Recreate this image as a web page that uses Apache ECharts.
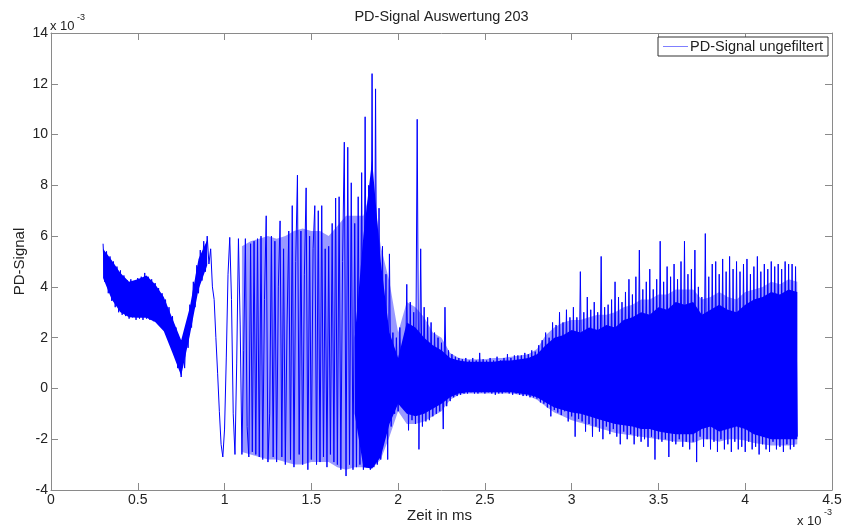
<!DOCTYPE html>
<html>
<head>
<meta charset="utf-8">
<script src="https://cdn.jsdelivr.net/npm/echarts@6/dist/echarts.min.js"></script>
<style>
  html, body { margin: 0; padding: 0; background: #fff; }
  #chart { width: 847px; height: 528px; }
</style>
</head>
<body>
<div id="chart"></div>
<script>
// Time axis of the recording (units of 1e-3 ms), reduced sample grid
const tStart = 0.30;
const tStep = 0.01;

// PD signal peaks/troughs (units of 1e-3), one value per sample step
const pdSignal = [
  5.7, 4.2, 5.4, 3.75, 5.2, 3.45, 5.0, 3.2, 4.8, 3.0,
  4.65, 2.9, 4.45, 2.85, 4.25, 2.75, 4.3, 2.8, 4.2, 2.7,
  4.35, 2.75, 4.4, 2.7, 4.55, 2.75, 4.4, 2.7, 4.3, 2.65,
  4.15, 2.6, 3.95, 2.5, 3.75, 2.35, 3.5, 2.1, 3.2, 1.8,
  2.85, 1.35, 2.4, 0.8, 1.95, 0.45, 2.0, 0.8, 2.45, 1.6,
  3.3, 2.4, 4.2, 3.2, 4.85, 3.75, 5.45, 4.25, 5.8, 4.6,
  6.0, 4.9, 5.5, 4.0, 3.5, 2.0, 0.6, -0.9, -2.2, -2.7,
  -1.6, 1.2, 4.5, 5.95, 3.5, -1.0, -2.6, 1.0, 5.9, 2.5,
  -2.6, 1.5, 5.9, -1.5, -2.7, 5.7, -2.5, 5.8, -2.6, 5.9,
  -2.7, 6.0, -2.8, 3.5, 6.8, -2.9, -1.0, 6.0, -2.7, 5.8,
  -2.9, 4.0, 6.6, -2.7, 5.5, -3.0, 2.5, 6.2, -2.8, 7.2,
  -3.1, 5.0, 8.4, -2.6, 6.2, -3.0, 4.5, 7.9, -3.2, 6.0,
  -2.8, 5.5, 7.2, -3.0, 7.0, -2.9, 7.2, -2.7, 5.5, -3.1,
  5.6, -2.6, 6.5, -2.9, 7.5, -3.0, 7.55, -3.2, 5.0, 9.7,
  -3.45, 9.5, -3.0, 8.1, -3.2, 6.5, -3.1, 7.55, -3.0, 8.5,
  -3.2, 10.7, -3.1, 8.0, -3.2, 12.4, -3.1, 11.8, -3.0, 7.1,
  -2.8, 5.6, -1.9, 4.5, -2.8, 5.3, -1.5, 2.2, -1.0, 2.0,
  -0.9, 2.4, -0.7, 1.5, -0.4, 4.1, -1.65, 3.4, -1.25, 3.0,
  -1.4, 10.6, -2.4, 5.5, -1.5, 3.2, -1.3, 2.8, -1.25, 2.6,
  -1.1, 2.2, -1.0, 2.0, -0.9, 1.8, -1.6, 3.2, -0.7, 1.5,
  -0.5, 1.35, -0.35, 1.25, -0.3, 1.2, -0.25, 1.15, -0.2, 1.2,
  -0.2, 1.1, -0.15, 1.2, -0.2, 1.1, -0.2, 1.4, -0.15, 1.15,
  -0.2, 1.1, -0.15, 1.2, -0.2, 1.1, -0.25, 1.25, -0.2, 1.1,
  -0.2, 1.2, -0.15, 1.35, -0.2, 1.2, -0.25, 1.3, -0.2, 1.3,
  -0.25, 1.3, -0.3, 1.4, -0.3, 1.35, -0.35, 1.5, -0.35, 1.45,
  -0.4, 1.7, -0.55, 1.9, -0.6, 2.2, -0.75, 2.0, -1.1, 2.6,
  -0.85, 2.5, -0.95, 3.0, -1.05, 2.6, -0.9, 3.1, -1.3, 2.8,
  -1.1, 3.2, -1.9, 2.8, -1.2, 4.6, -1.3, 3.0, -1.7, 3.6,
  -1.4, 3.1, -1.9, 3.4, -1.5, 3.0, -1.7, 5.2, -2.0, 3.2,
  -1.5, 3.3, -1.8, 3.5, -1.6, 4.2, -1.9, 3.6, -2.2, 3.4,
  -1.7, 3.8, -2.0, 4.3, -1.8, 3.7, -2.2, 4.4, -1.9, 5.45,
  -2.1, 3.9, -2.0, 4.2, -2.3, 4.7, -1.9, 3.9, -2.8, 4.3,
  -2.0, 5.8, -2.1, 4.2, -2.0, 4.8, -2.7, 4.4, -2.1, 4.9,
  -2.2, 4.3, -2.0, 5.0, -2.3, 5.8, -2.1, 4.5, -2.4, 4.7,
  -2.1, 5.45, -2.9, 4.0, -1.9, 3.6, -2.3, 6.1, -2.0, 4.4,
  -2.4, 4.9, -2.1, 5.0, -2.5, 4.5, -2.0, 5.1, -2.4, 4.6,
  -2.2, 5.2, -2.5, 4.7, -2.1, 5.0, -2.4, 4.6, -2.3, 4.9,
  -2.5, 5.1, -2.1, 4.5, -2.4, 4.8, -2.3, 5.2, -2.6, 4.6,
  -2.2, 4.9, -2.4, 4.7, -2.5, 5.0, -2.1, 4.8, -2.4, 4.9,
  -2.3, 4.7, -2.5, 5.0, -2.2, 4.9, -2.4, 4.9, -2.3, 4.8,
  -1.9
];

// Envelope of the densely oscillating part, coarse grid (null = no dense part)
const envStart = 0.30;
const envStep = 0.05;
const coreUpper = [
  5.5, 5.05, 4.55, 4.2, 4.3, 4.45, 4.1, 3.6, 2.75, 1.9,
  3.2, 5.1, 5.85, null, null, null, null, null, null, null,
  null, null, null, null, null, null, null, null, null, 2.0,
  6.0, 9.0, 5.0, 2.2, 1.2, 2.6, 2.4, 2.0, 1.7, 1.5,
  1.2, 1.1, 1.05, 1.05, 1.05, 1.05, 1.1, 1.1, 1.15, 1.2,
  1.35, 1.7, 2.0, 2.1, 2.3, 2.2, 2.4, 2.3, 2.5, 2.4,
  2.7, 2.8, 3.0, 2.9, 3.2, 3.1, 3.4, 3.3, 3.4, 2.9,
  3.1, 3.3, 3.1, 3.0, 3.3, 3.5, 3.6, 3.8, 3.7, 3.9,
  3.8
];
const coreLower = [
  4.35, 3.5, 3.0, 2.8, 2.78, 2.78, 2.62, 2.25, 1.4, 0.5,
  2.1, 3.9, 4.85, null, null, null, null, null, null, null,
  null, null, null, null, null, null, null, null, null, -1.0,
  -3.1, -3.15, -2.7, -1.4, -0.6, -1.0, -1.1, -1.0, -0.8, -0.6,
  -0.35, -0.2, -0.15, -0.15, -0.15, -0.15, -0.15, -0.15, -0.2, -0.25,
  -0.35, -0.55, -0.75, -0.85, -0.95, -1.0, -1.1, -1.2, -1.3, -1.4,
  -1.45, -1.5, -1.6, -1.6, -1.7, -1.75, -1.8, -1.8, -1.8, -1.6,
  -1.5, -1.7, -1.6, -1.5, -1.6, -1.8, -1.9, -2.0, -2.0, -2.0,
  -2.0
];
// Outer, sparser part of the oscillation (thin strokes, lighter overall)
const hazeUpper = [
  null, null, null, null, null, null, null, null, null, null,
  null, null, null, null, null, null, 5.6, 5.8, 5.9, 6.0,
  5.9, 6.0, 6.2, 6.3, 6.2, 6.2, 6.0, 6.4, 6.8, 6.8,
  6.8, 8.0, 5.6, 4.2, 2.2, 3.4, 3.2, 2.8, 2.2, 2.0,
  1.4, 1.2, 1.15, 1.15, 1.15, 1.2, 1.2, 1.25, 1.3, 1.35,
  1.55, 2.1, 2.4, 2.6, 2.7, 2.7, 2.8, 2.9, 2.9, 3.0,
  3.2, 3.3, 3.5, 3.5, 3.7, 3.7, 3.9, 3.9, 3.9, 3.5,
  3.6, 3.8, 3.6, 3.5, 3.8, 3.9, 4.0, 4.2, 4.1, 4.3,
  4.2
];
const hazeLower = [
  null, null, null, null, null, null, null, null, null, null,
  null, null, null, null, null, null, -2.5, -2.6, -2.7, -2.8,
  -2.8, -2.9, -3.0, -3.0, -2.9, -2.9, -2.9, -3.1, -3.2, -3.1,
  -3.1, -3.15, -2.8, -1.9, -0.9, -1.4, -1.4, -1.3, -1.1, -0.9,
  -0.45, -0.25, -0.2, -0.2, -0.2, -0.2, -0.2, -0.2, -0.25, -0.3,
  -0.45, -0.7, -0.95, -1.1, -1.25, -1.35, -1.45, -1.55, -1.65, -1.75,
  -1.8, -1.85, -1.9, -1.95, -2.0, -2.05, -2.1, -2.1, -2.15, -2.0,
  -2.0, -2.1, -2.0, -2.0, -2.05, -2.15, -2.2, -2.25, -2.25, -2.25,
  -2.2
];

// Axis ticks (both scaled by 1e-3)
const xTicks = [0, 0.5, 1, 1.5, 2, 2.5, 3, 3.5, 4, 4.5];
const yTicks = [-4, -2, 0, 2, 4, 6, 8, 10, 12, 14];

const seriesName = 'PD-Signal ungefiltert';
const titleText = 'PD-Signal Auswertung 203';
const xName = 'Zeit in ms';
const yName = 'PD-Signal';

const FONT = '"Liberation Sans", Arial, Helvetica, sans-serif';
const AXIS_COLOR = '#8a8a8a';
const TEXT_COLOR = '#222';
const LINE_COLOR = '#0000ff';
const LEGEND_LINE = '#7f7fff';

const signalData = pdSignal.map((v, i) => [+(tStart + i * tStep).toFixed(2), v]);
const envTime = coreUpper.map((_, i) => +(envStart + i * envStep).toFixed(2));

// Build one filled polygon per run of non-null envelope values
function bandRenderer(upper, lower, fill) {
  return function (params, api) {
    const children = [];
    let run = [];
    const flush = () => {
      if (run.length > 1) {
        const top = run.map(i => api.coord([envTime[i], upper[i]]));
        const bottom = run.slice().reverse().map(i => api.coord([envTime[i], lower[i]]));
        children.push({ type: 'polygon', shape: { points: top.concat(bottom) }, style: { fill: fill, stroke: null } });
      }
      run = [];
    };
    for (let i = 0; i < envTime.length; i++) {
      if (upper[i] == null || lower[i] == null) flush();
      else run.push(i);
    }
    flush();
    return { type: 'group', children: children };
  };
}

const chart = echarts.init(document.getElementById('chart'), null, { renderer: 'canvas' });

const plot = { left: 51, right: 832, top: 33, bottom: 490 };

function axisBase(extra) {
  return Object.assign({
    axisLine: { show: true, onZero: false, lineStyle: { color: AXIS_COLOR, width: 1 } },
    axisTick: { show: true, inside: true, length: 7, lineStyle: { color: AXIS_COLOR, width: 1 } },
    splitLine: { show: false },
    axisLabel: { show: false }
  }, extra);
}

const option = {
  animation: false,
  backgroundColor: '#fff',
  grid: { left: plot.left, right: 847 - plot.right, top: plot.top, bottom: 528 - plot.bottom, containLabel: false },
  xAxis: [
    axisBase({
      type: 'value', position: 'bottom',
      min: xTicks[0], max: xTicks[xTicks.length - 1], interval: xTicks[1] - xTicks[0],
      axisLabel: { show: true, margin: 3, color: TEXT_COLOR, fontFamily: FONT, fontSize: 14 }
    }),
    axisBase({
      type: 'value', position: 'top',
      min: xTicks[0], max: xTicks[xTicks.length - 1], interval: xTicks[1] - xTicks[0]
    })
  ],
  yAxis: [
    axisBase({
      type: 'value', position: 'left',
      min: yTicks[0], max: yTicks[yTicks.length - 1], interval: yTicks[1] - yTicks[0],
      axisLabel: { show: true, margin: 3, color: TEXT_COLOR, fontFamily: FONT, fontSize: 14 }
    }),
    axisBase({
      type: 'value', position: 'right',
      min: yTicks[0], max: yTicks[yTicks.length - 1], interval: yTicks[1] - yTicks[0]
    })
  ],
  legend: {
    show: true,
    data: [{ name: seriesName, icon: 'rect', itemStyle: { color: LEGEND_LINE } }],
    right: 847 - 828,
    top: 37,
    orient: 'vertical',
    backgroundColor: '#fff',
    borderColor: '#333',
    borderWidth: 1,
    borderRadius: 0,
    padding: [2, 5, 2, 5],
    itemWidth: 25,
    itemHeight: 1,
    itemStyle: { color: LEGEND_LINE, borderWidth: 0 },
    textStyle: { color: TEXT_COLOR, fontFamily: FONT, fontSize: 14.5, padding: [0, 0, 0, -3] }
  },
  series: [
    {
      name: 'haze',
      type: 'custom',
      silent: true,
      z: 1,
      data: [[envStart, 0]],
      renderItem: bandRenderer(hazeUpper, hazeLower, 'rgba(0,0,255,0.40)')
    },
    {
      name: 'core',
      type: 'custom',
      silent: true,
      z: 2,
      data: [[envStart, 0]],
      renderItem: bandRenderer(coreUpper, coreLower, LINE_COLOR)
    },
    {
      name: seriesName,
      type: 'line',
      z: 3,
      data: signalData,
      showSymbol: false,
      symbol: 'none',
      smooth: false,
      lineStyle: { width: 1, color: LINE_COLOR },
      itemStyle: { color: LINE_COLOR },
      emphasis: { disabled: true }
    }
  ],
  graphic: [
    { type: 'text', x: (plot.left + plot.right) / 2, y: 17,
      style: { text: titleText, fill: TEXT_COLOR, font: '14.5px ' + FONT, textAlign: 'center', textVerticalAlign: 'middle' } },
    { type: 'text', x: (plot.left + plot.right) / 2 - 2, y: 516,
      style: { text: xName, fill: TEXT_COLOR, font: '15px ' + FONT, textAlign: 'center', textVerticalAlign: 'middle' } },
    { type: 'text', x: 20, y: (plot.top + plot.bottom) / 2, rotation: Math.PI / 2,
      style: { text: yName, fill: TEXT_COLOR, font: '15px ' + FONT, textAlign: 'center', textVerticalAlign: 'middle' } },
    { type: 'text', x: 50, y: 26,
      style: { text: 'x 10', fill: TEXT_COLOR, font: '13px ' + FONT, textAlign: 'left', textVerticalAlign: 'middle' } },
    { type: 'text', x: 77, y: 18,
      style: { text: '-3', fill: TEXT_COLOR, font: '9px ' + FONT, textAlign: 'left', textVerticalAlign: 'middle' } },
    { type: 'text', x: 797, y: 521,
      style: { text: 'x 10', fill: TEXT_COLOR, font: '13px ' + FONT, textAlign: 'left', textVerticalAlign: 'middle' } },
    { type: 'text', x: 824, y: 513,
      style: { text: '-3', fill: TEXT_COLOR, font: '9px ' + FONT, textAlign: 'left', textVerticalAlign: 'middle' } }
  ]
};

chart.setOption(option);
</script>
</body>
</html>
